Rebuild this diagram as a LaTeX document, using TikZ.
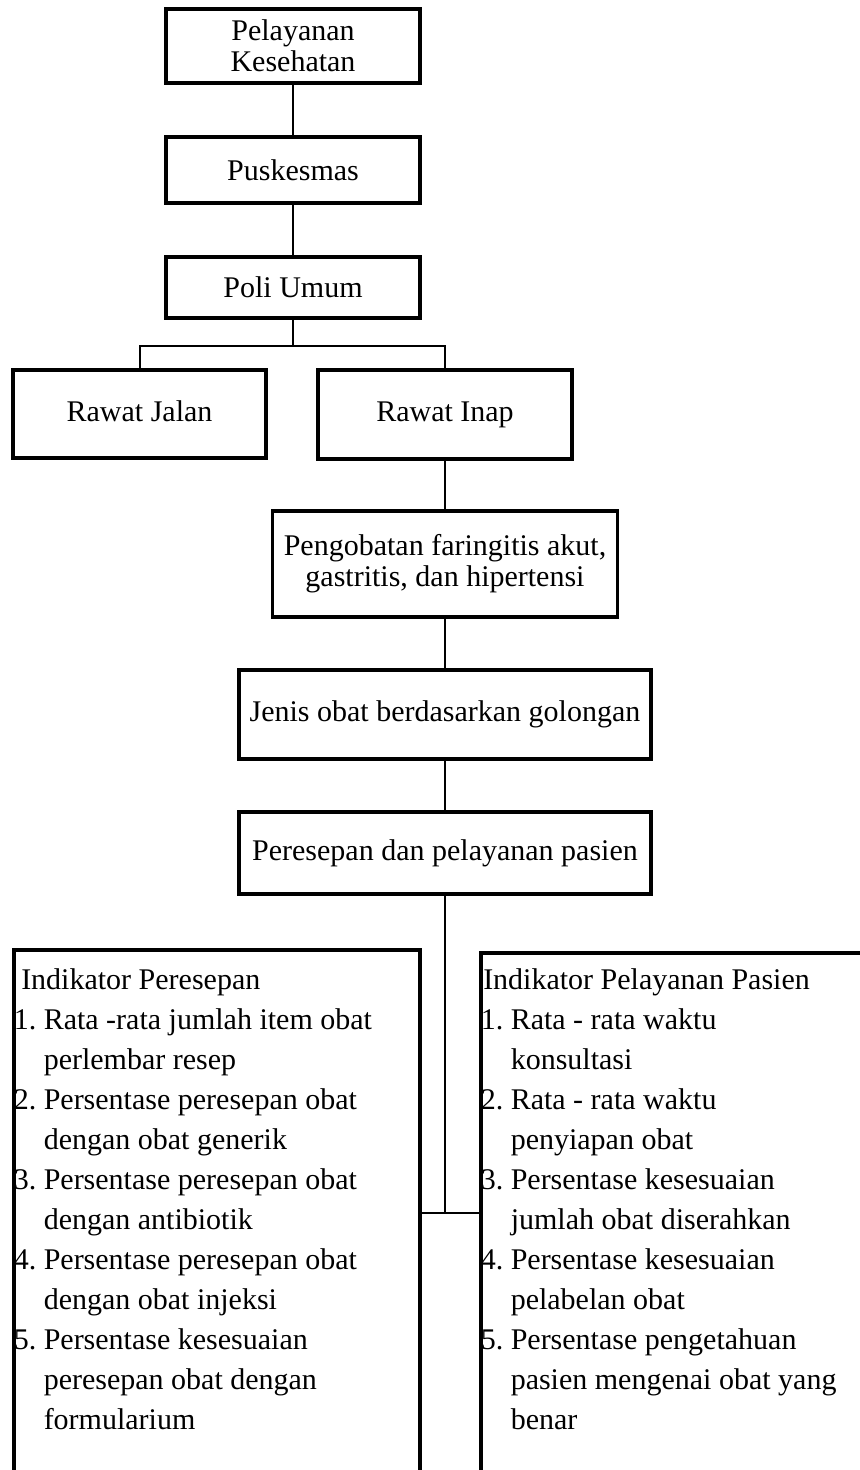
\documentclass[tikz,border=0pt]{standalone}
\usepackage{fontspec}
\setmainfont{Liberation Serif}
\usepackage{tikz}
\usetikzlibrary{shapes, arrows}
\tikzstyle{unit} = [rectangle, draw, line width=1.3pt, text centered, align=center, minimum width=101.6pt, inner sep=2pt, font=\fontsize{12}{12.5}\selectfont]
\tikzstyle{wide} = [unit, minimum width=164.8pt, minimum height=35.6pt]
\tikzstyle{indicator} = [rectangle, draw, line width=1.4pt, anchor=north west, inner sep=0pt, font=\fontsize{12}{16}\selectfont]
\tikzstyle{link} = [draw, line width=0.8pt]
\newcommand{\nomor}[2]{\makebox[12pt][l]{#1}#2}
\newcommand{\lanjut}[1]{\hspace*{12pt}#1}

\begin{document}
\begin{tikzpicture}[node distance = 49.6pt, auto]
    \useasboundingbox (0,0) rectangle (343.6pt,-588pt);
    \node[unit, minimum height=29.6pt] (pk) at (117.2pt,-18.4pt) {Pelayanan\\Kesehatan};
    \node[unit, minimum height=26.4pt, below of=pk] (pusk) {Puskesmas};
    \node[unit, minimum height=24.4pt, below of=pusk, node distance=47pt] (poli) {Poli Umum};
    \node[unit, minimum height=35.2pt, minimum width=101.2pt, text height=8.5pt, text depth=2.6pt] (jalan) at (55.8pt,-165.6pt) {Rawat Jalan};
    \node[unit, minimum height=35.6pt, text height=8.5pt, text depth=2.6pt] (inap) at (178pt,-165.8pt) {Rawat Inap};
    \node[unit, minimum width=138pt, minimum height=42.4pt, below of=inap, node distance=59.8pt] (obat) {Pengobatan faringitis akut,\\gastritis, dan hipertensi};
    \node[wide, below of=obat, node distance=60.2pt] (jenis) {Jenis obat berdasarkan golongan};
    \node[wide, minimum height=32.8pt, below of=jenis, node distance=55.4pt] (resep) {Peresepan dan pelayanan pasien};
    % indikator
    \node[indicator] (indres) at (4.8pt,-379.2pt) {\begin{minipage}[t][215pt][t]{162.4pt}
        \rule{0pt}{16pt}\hspace*{3pt}Indikator Peresepan\\
        \nomor{1.}{Rata -rata jumlah item obat}\\
        \lanjut{perlembar resep}\\
        \nomor{2.}{Persentase peresepan obat}\\
        \lanjut{dengan obat generik}\\
        \nomor{3.}{Persentase peresepan obat}\\
        \lanjut{dengan antibiotik}\\
        \nomor{4.}{Persentase peresepan obat}\\
        \lanjut{dengan obat injeksi}\\
        \nomor{5.}{Persentase kesesuaian}\\
        \lanjut{peresepan obat dengan}\\
        \lanjut{formularium}
    \end{minipage}};
    \node[indicator] (indpas) at (191.6pt,-380.4pt) {\begin{minipage}[t][215pt][t]{160pt}
        \rule{0pt}{14.8pt}\hspace*{1pt}Indikator Pelayanan Pasien\\
        \nomor{1.}{Rata - rata waktu}\\
        \lanjut{konsultasi}\\
        \nomor{2.}{Rata - rata waktu}\\
        \lanjut{penyiapan obat}\\
        \nomor{3.}{Persentase kesesuaian}\\
        \lanjut{jumlah obat diserahkan}\\
        \nomor{4.}{Persentase kesesuaian}\\
        \lanjut{pelabelan obat}\\
        \nomor{5.}{Persentase pengetahuan}\\
        \lanjut{pasien mengenai obat yang}\\
        \lanjut{benar}
    \end{minipage}};
    \path[link] (pk) -- (pusk);
    \path[link] (pusk) -- (poli);
    \path[link] (poli.south) -- ++(0,-10.4pt) coordinate (split) -| (jalan.north);
    \path[link] (split) -| (inap.north);
    \path[link] (inap) -- (obat);
    \path[link] (obat) -- (jenis);
    \path[link] (jenis) -- (resep);
    \coordinate (join) at ([yshift=-485.2pt]resep.south |- 0,0);
    \path[link] (resep.south) -- (join);
    \path[link] (indres.east |- join) -- (indpas.west |- join);
\end{tikzpicture}
\end{document}
